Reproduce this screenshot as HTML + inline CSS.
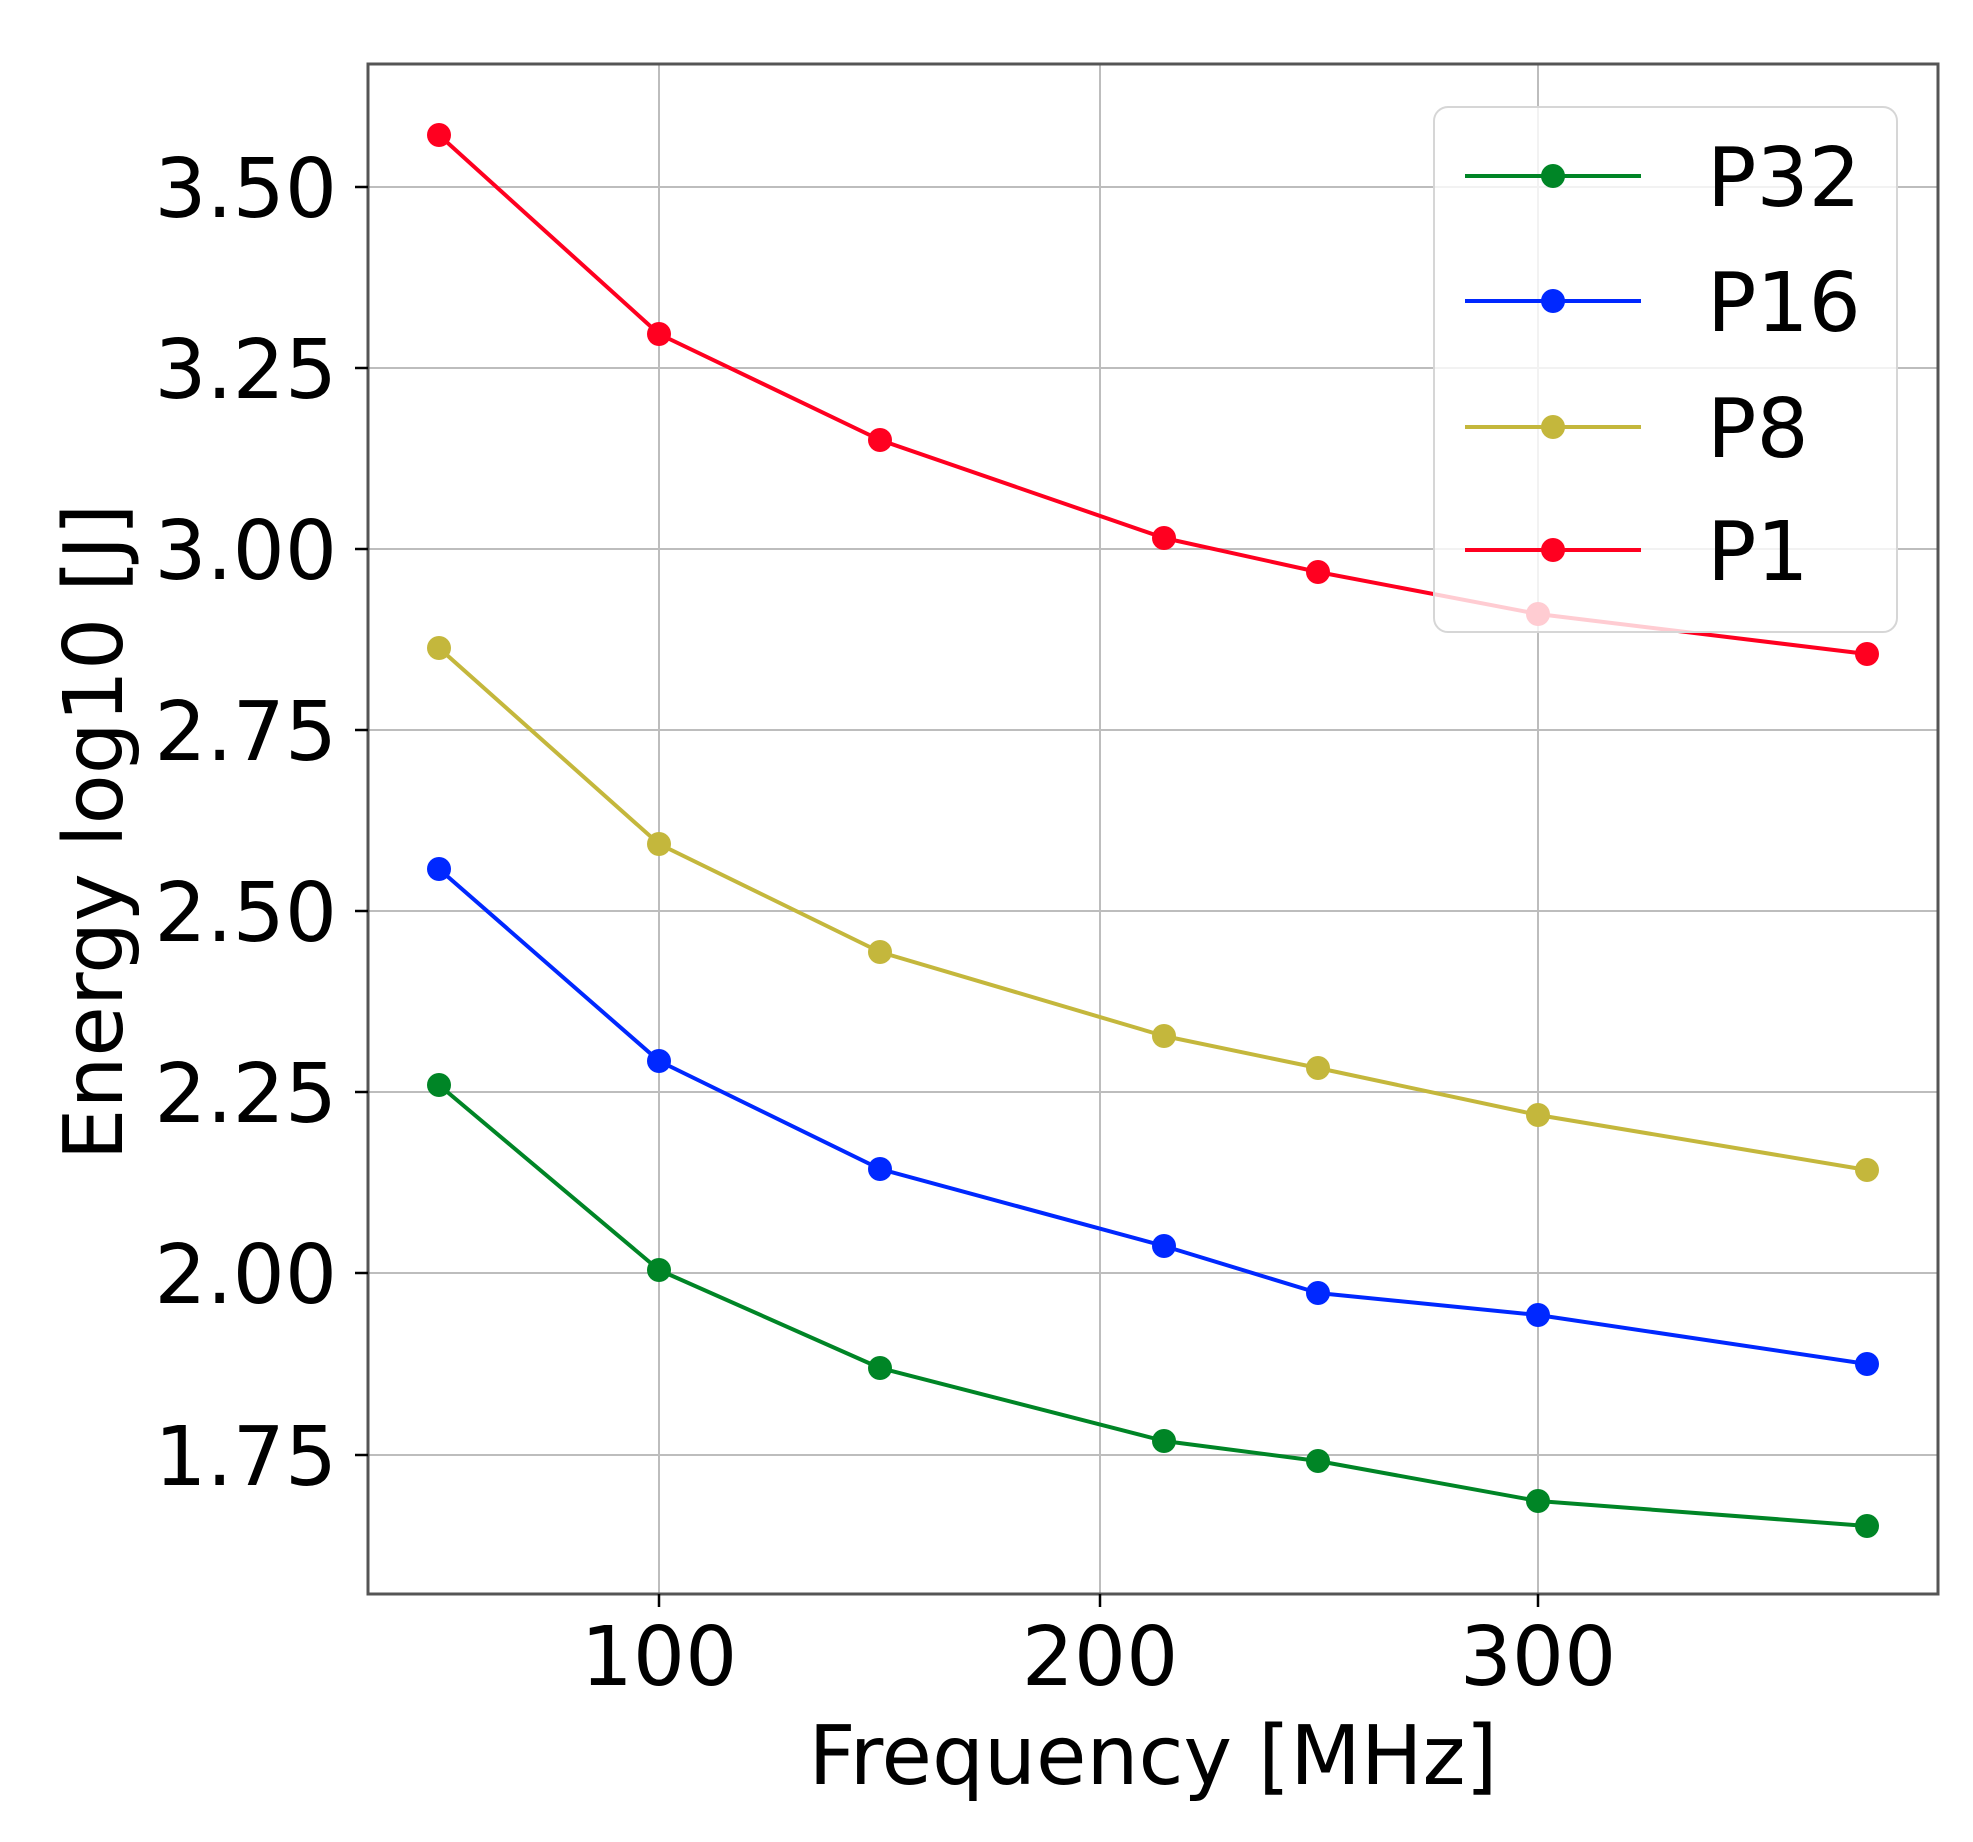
<!DOCTYPE html>
<html><head><meta charset="utf-8"><style>
html,body{margin:0;padding:0;background:#fff;}
svg{display:block;}
text{font-family:"DejaVu Sans","Liberation Sans",sans-serif;fill:#000;}
</style></head><body>
<svg width="1973" height="1842" viewBox="0 0 1973 1842" xmlns="http://www.w3.org/2000/svg">
<rect width="1973" height="1842" fill="#fff"/>
<g stroke="#bdbdbd" stroke-width="2">
<line x1="659" y1="64" x2="659" y2="1594"/>
<line x1="1100" y1="64" x2="1100" y2="1594"/>
<line x1="1538" y1="64" x2="1538" y2="1594"/>
<line x1="368" y1="187" x2="1938" y2="187"/>
<line x1="368" y1="368" x2="1938" y2="368"/>
<line x1="368" y1="549" x2="1938" y2="549"/>
<line x1="368" y1="730" x2="1938" y2="730"/>
<line x1="368" y1="911" x2="1938" y2="911"/>
<line x1="368" y1="1092" x2="1938" y2="1092"/>
<line x1="368" y1="1273" x2="1938" y2="1273"/>
<line x1="368" y1="1455" x2="1938" y2="1455"/>
</g>
<g fill="none" stroke-width="4" stroke-linejoin="round">
<polyline stroke="#ff0020" points="439,135 659,334 880,440 1164,538 1318,572 1538,614 1867,654"/>
<polyline stroke="#c4b73c" points="439,648 659,844 880,952 1164,1036 1318,1068 1538,1115 1867,1170"/>
<polyline stroke="#0028ff" points="439,869 659,1061 880,1169 1164,1246 1318,1293 1538,1315 1867,1364"/>
<polyline stroke="#008526" points="439,1085 659,1270 880,1368 1164,1441 1318,1461 1538,1501 1867,1526"/>
</g>
<g fill="#ff0020"><circle cx="439" cy="135" r="12"/><circle cx="659" cy="334" r="12"/><circle cx="880" cy="440" r="12"/><circle cx="1164" cy="538" r="12"/><circle cx="1318" cy="572" r="12"/><circle cx="1538" cy="614" r="12"/><circle cx="1867" cy="654" r="12"/></g>
<g fill="#c4b73c"><circle cx="439" cy="648" r="12"/><circle cx="659" cy="844" r="12"/><circle cx="880" cy="952" r="12"/><circle cx="1164" cy="1036" r="12"/><circle cx="1318" cy="1068" r="12"/><circle cx="1538" cy="1115" r="12"/><circle cx="1867" cy="1170" r="12"/></g>
<g fill="#0028ff"><circle cx="439" cy="869" r="12"/><circle cx="659" cy="1061" r="12"/><circle cx="880" cy="1169" r="12"/><circle cx="1164" cy="1246" r="12"/><circle cx="1318" cy="1293" r="12"/><circle cx="1538" cy="1315" r="12"/><circle cx="1867" cy="1364" r="12"/></g>
<g fill="#008526"><circle cx="439" cy="1085" r="12"/><circle cx="659" cy="1270" r="12"/><circle cx="880" cy="1368" r="12"/><circle cx="1164" cy="1441" r="12"/><circle cx="1318" cy="1461" r="12"/><circle cx="1538" cy="1501" r="12"/><circle cx="1867" cy="1526" r="12"/></g>
<rect x="368" y="64" width="1570" height="1530" fill="none" stroke="#555" stroke-width="3"/>
<g stroke="#000" stroke-width="2.5">
<line x1="659" y1="1594" x2="659" y2="1607"/>
<line x1="1100" y1="1594" x2="1100" y2="1607"/>
<line x1="1538" y1="1594" x2="1538" y2="1607"/>
<line x1="355" y1="187" x2="368" y2="187"/>
<line x1="355" y1="368" x2="368" y2="368"/>
<line x1="355" y1="549" x2="368" y2="549"/>
<line x1="355" y1="730" x2="368" y2="730"/>
<line x1="355" y1="911" x2="368" y2="911"/>
<line x1="355" y1="1092" x2="368" y2="1092"/>
<line x1="355" y1="1273" x2="368" y2="1273"/>
<line x1="355" y1="1455" x2="368" y2="1455"/>
</g>
<g font-size="82" text-anchor="middle">
<text x="659" y="1685">100</text>
<text x="1100" y="1685">200</text>
<text x="1538" y="1685">300</text>
</g>
<g font-size="82" text-anchor="end">
<text x="337" y="217">3.50</text>
<text x="337" y="398">3.25</text>
<text x="337" y="579">3.00</text>
<text x="337" y="760">2.75</text>
<text x="337" y="941">2.50</text>
<text x="337" y="1122">2.25</text>
<text x="337" y="1303">2.00</text>
<text x="337" y="1485">1.75</text>
</g>
<text x="1153" y="1784" font-size="82" text-anchor="middle">Frequency [MHz]</text>
<text transform="translate(122,832) rotate(-90)" font-size="82" text-anchor="middle">Energy log10 [J]</text>
<rect x="1434" y="107" width="463" height="525" rx="14" ry="14" fill="#fff" fill-opacity="0.8" stroke="#d6d6d6" stroke-width="2"/>
<g stroke-width="4">
<line x1="1465" y1="176" x2="1641" y2="176" stroke="#008526"/>
<line x1="1465" y1="301" x2="1641" y2="301" stroke="#0028ff"/>
<line x1="1465" y1="427" x2="1641" y2="427" stroke="#c4b73c"/>
<line x1="1465" y1="550" x2="1641" y2="550" stroke="#ff0020"/>
</g>
<circle cx="1553" cy="176" r="12" fill="#008526"/>
<circle cx="1553" cy="301" r="12" fill="#0028ff"/>
<circle cx="1553" cy="427" r="12" fill="#c4b73c"/>
<circle cx="1553" cy="550" r="12" fill="#ff0020"/>
<g font-size="82">
<text x="1707" y="206">P32</text>
<text x="1707" y="331">P16</text>
<text x="1707" y="457">P8</text>
<text x="1707" y="580">P1</text>
</g>
</svg>
</body></html>
